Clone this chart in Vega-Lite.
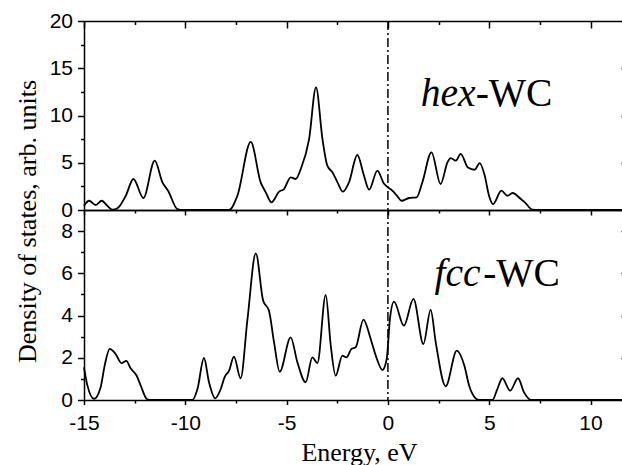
{
  "$schema": "https://vega.github.io/schema/vega-lite/v6.json",
  "padding": {"left": 13, "top": 10, "right": 0, "bottom": 0},
  "spacing": 0,
  "bounds": "flush",
  "config": {
    "view": {"stroke": null},
    "axis": {"grid": false, "domainColor": "black", "domainWidth": 1.5, "tickColor": "black", "tickWidth": 1.5, "labelColor": "black", "titleColor": "black", "labelFont": "Liberation Sans", "labelFontSize": 21, "titleFont": "Liberation Serif", "titleFontSize": 26, "titleFontWeight": "normal", "labelFlush": false, "labelOverlap": false, "labelBound": false}
  },
  "datasets": {
    "hex": [
      {"E": -15, "DOS": 0.45}, {"E": -14.75, "DOS": 0.98}, {"E": -14.42, "DOS": 0.53}, {"E": -14.13, "DOS": 0.98}, {"E": -13.85, "DOS": 0.45}, {"E": -13.6, "DOS": 0.03}, {"E": -13.35, "DOS": 0.18}, {"E": -12.94, "DOS": 1.5}, {"E": -12.56, "DOS": 3.28}, {"E": -12.07, "DOS": 1.27}, {"E": -11.51, "DOS": 5.22}, {"E": -11.13, "DOS": 2.93}, {"E": -10.85, "DOS": 2.04}, {"E": -10.39, "DOS": 0.1}, {"E": -10.1, "DOS": 0}, {"E": -7.84, "DOS": 0}, {"E": -7.43, "DOS": 1.51}, {"E": -6.77, "DOS": 7.2}, {"E": -6.28, "DOS": 2.93}, {"E": -6.03, "DOS": 1.87}, {"E": -5.75, "DOS": 0.81}, {"E": -5.37, "DOS": 1.94}, {"E": -5.13, "DOS": 2.22}, {"E": -4.8, "DOS": 3.46}, {"E": -4.55, "DOS": 3.28}, {"E": -4.3, "DOS": 4.34}, {"E": -3.89, "DOS": 7.51}, {"E": -3.55, "DOS": 12.98}, {"E": -3.23, "DOS": 7.5}, {"E": -2.99, "DOS": 4.69}, {"E": -2.74, "DOS": 3.99}, {"E": -2.49, "DOS": 2.93}, {"E": -2.22, "DOS": 1.94}, {"E": -1.92, "DOS": 2.93}, {"E": -1.51, "DOS": 5.82}, {"E": -1.18, "DOS": 3.63}, {"E": -0.93, "DOS": 2.15}, {"E": -0.52, "DOS": 4.16}, {"E": -0.2, "DOS": 2.8}, {"E": 0.0, "DOS": 2.4}, {"E": 0.22, "DOS": 2.05}, {"E": 0.45, "DOS": 1.5}, {"E": 0.67, "DOS": 0.98}, {"E": 1.04, "DOS": 1.27}, {"E": 1.42, "DOS": 1.34}, {"E": 1.7, "DOS": 2.93}, {"E": 2.15, "DOS": 6.1}, {"E": 2.6, "DOS": 2.75}, {"E": 2.94, "DOS": 5.05}, {"E": 3.1, "DOS": 5.5}, {"E": 3.35, "DOS": 5.22}, {"E": 3.59, "DOS": 5.93}, {"E": 3.95, "DOS": 4.5}, {"E": 4.28, "DOS": 4.26}, {"E": 4.53, "DOS": 4.97}, {"E": 4.78, "DOS": 3.63}, {"E": 4.99, "DOS": 1.51}, {"E": 5.19, "DOS": 0.63}, {"E": 5.6, "DOS": 2.04}, {"E": 5.9, "DOS": 1.51}, {"E": 6.15, "DOS": 1.8}, {"E": 6.56, "DOS": 1.16}, {"E": 6.76, "DOS": 0.81}, {"E": 7.13, "DOS": 0.03}, {"E": 7.4, "DOS": 0}, {"E": 11.8, "DOS": 0}
    ],
    "fcc": [
      {"E": -15, "DOS": 1.55}, {"E": -14.83, "DOS": 0.68}, {"E": -14.5, "DOS": 0.05}, {"E": -14.18, "DOS": 0.6}, {"E": -13.98, "DOS": 1.63}, {"E": -13.73, "DOS": 2.42}, {"E": -13.44, "DOS": 2.18}, {"E": -13.15, "DOS": 1.75}, {"E": -12.91, "DOS": 1.85}, {"E": -12.7, "DOS": 1.5}, {"E": -12.4, "DOS": 1.15}, {"E": -12.2, "DOS": 0.68}, {"E": -11.9, "DOS": 0.05}, {"E": -11.7, "DOS": 0}, {"E": -9.65, "DOS": 0}, {"E": -9.4, "DOS": 0.52}, {"E": -9.08, "DOS": 1.99}, {"E": -8.83, "DOS": 0.84}, {"E": -8.53, "DOS": 0.08}, {"E": -8.25, "DOS": 0.52}, {"E": -8.06, "DOS": 1.08}, {"E": -7.84, "DOS": 1.39}, {"E": -7.6, "DOS": 2.05}, {"E": -7.27, "DOS": 1.03}, {"E": -6.93, "DOS": 3.84}, {"E": -6.52, "DOS": 6.95}, {"E": -6.16, "DOS": 4.71}, {"E": -5.87, "DOS": 4.23}, {"E": -5.62, "DOS": 2.73}, {"E": -5.34, "DOS": 1.34}, {"E": -4.8, "DOS": 2.97}, {"E": -4.47, "DOS": 1.79}, {"E": -4.06, "DOS": 0.84}, {"E": -3.73, "DOS": 2.02}, {"E": -3.48, "DOS": 1.75}, {"E": -3.07, "DOS": 4.98}, {"E": -2.82, "DOS": 2.57}, {"E": -2.58, "DOS": 1.15}, {"E": -2.25, "DOS": 2.1}, {"E": -2.05, "DOS": 2.02}, {"E": -1.8, "DOS": 2.42}, {"E": -1.59, "DOS": 2.5}, {"E": -1.21, "DOS": 3.81}, {"E": -0.85, "DOS": 2.89}, {"E": -0.6, "DOS": 2.1}, {"E": -0.27, "DOS": 1.42}, {"E": -0.06, "DOS": 1.94}, {"E": 0.1, "DOS": 3.84}, {"E": 0.3, "DOS": 4.66}, {"E": 0.79, "DOS": 3.52}, {"E": 1.26, "DOS": 4.79}, {"E": 1.75, "DOS": 2.65}, {"E": 2.11, "DOS": 4.27}, {"E": 2.36, "DOS": 2.73}, {"E": 2.85, "DOS": 0.65}, {"E": 3.4, "DOS": 2.34}, {"E": 3.77, "DOS": 1.63}, {"E": 4.01, "DOS": 0.68}, {"E": 4.33, "DOS": 0.08}, {"E": 4.5, "DOS": 0}, {"E": 5.16, "DOS": 0}, {"E": 5.4, "DOS": 0.52}, {"E": 5.65, "DOS": 1.03}, {"E": 6.03, "DOS": 0.44}, {"E": 6.42, "DOS": 1.03}, {"E": 6.72, "DOS": 0.36}, {"E": 6.96, "DOS": 0.05}, {"E": 7.1, "DOS": 0}, {"E": 11.8, "DOS": 0}
    ]
  },
  "vconcat": [
    {
      "width": 543,
      "height": 189,
      "layer": [
        {
          "data": {"name": "hex"},
          "mark": {"type": "line", "interpolate": "monotone", "color": "black", "strokeWidth": 1.8},
          "encoding": {
            "x": {"field": "E", "type": "quantitative", "scale": {"domain": [-15, 11.8], "nice": false, "zero": false},
              "axis": {"orient": "bottom", "title": null, "labels": false, "ticks": false, "values": [-15, -10, -5, 0, 5, 10]}},
            "y": {"field": "DOS", "type": "quantitative", "scale": {"domain": [0, 20], "nice": false},
              "axis": {"orient": "left", "values": [0, 2.5, 5, 7.5, 10, 12.5, 15, 17.5, 20],
                "labelExpr": "datum.value % 5 === 0 ? toString(datum.value) : ''",
                "tickSize": {"condition": {"test": "datum.value % 5 === 0", "value": 6.5}, "value": 3.5},
                "labelPadding": 5,
                "title": "Density of states, arb. units", "titleFontSize": 26, "titleX": -49, "titleY": 200, "titleBaseline": "alphabetic", "titleAngle": 270, "titleAlign": "center"}}
          }
        },
        {
          "data": {"values": [{"E": 0}]},
          "mark": {"type": "rule", "color": "black", "strokeWidth": 1.5, "strokeDash": [9, 3, 2, 3]},
          "encoding": {
            "x": {"field": "E", "type": "quantitative",
              "axis": {"orient": "top", "title": null, "labels": false, "values": [-15, -12.5, -10, -7.5, -5, -2.5, 0, 2.5, 5, 7.5, 10],
                "tickSize": {"condition": {"test": "datum.value % 5 === 0", "value": -7}, "value": -3.5}}}
          }
        },
        {
          "data": {"values": [{"E": 1.62, "DOS": 10.97, "t": "hex"}]},
          "mark": {"type": "text", "font": "Liberation Serif", "fontSize": 39.5, "fontStyle": "italic", "align": "left", "baseline": "alphabetic", "color": "black"},
          "encoding": {
            "x": {"field": "E", "type": "quantitative", "axis": null},
            "y": {"field": "DOS", "type": "quantitative",
              "axis": {"orient": "right", "title": null, "labels": false, "domain": false, "values": [0, 2.5, 5, 7.5, 10, 12.5, 15, 17.5, 20],
                "tickSize": {"condition": {"test": "datum.value % 5 === 0", "value": -6}, "value": -3}}},
            "text": {"field": "t"}
          }
        },
        {
          "data": {"values": [{"E": 4.33, "DOS": 10.97, "t": "-WC"}]},
          "mark": {"type": "text", "font": "Liberation Serif", "fontSize": 39.5, "align": "left", "baseline": "alphabetic", "color": "black"},
          "encoding": {
            "x": {"field": "E", "type": "quantitative", "axis": null},
            "y": {"field": "DOS", "type": "quantitative", "axis": null},
            "text": {"field": "t"}
          }
        }
      ],
      "resolve": {"axis": {"x": "independent", "y": "independent"}}
    },
    {
      "width": 543,
      "height": 190,
      "layer": [
        {
          "data": {"name": "fcc"},
          "mark": {"type": "line", "interpolate": "monotone", "color": "black", "strokeWidth": 1.8},
          "encoding": {
            "x": {"field": "E", "type": "quantitative", "scale": {"domain": [-15, 11.8], "nice": false, "zero": false},
              "axis": {"orient": "bottom", "values": [-15, -12.5, -10, -7.5, -5, -2.5, 0, 2.5, 5, 7.5, 10],
                "labelExpr": "datum.value % 5 === 0 ? toString(datum.value) : ''",
                "tickSize": {"condition": {"test": "datum.value % 5 === 0", "value": 4.5}, "value": 3},
                "labelPadding": 8,
                "title": "Energy, eV", "titleX": 275, "titleY": 60, "titleBaseline": "alphabetic", "titleAlign": "center"}},
            "y": {"field": "DOS", "type": "quantitative", "scale": {"domain": [0, 9], "nice": false},
              "axis": {"orient": "left", "values": [0, 1, 2, 3, 4, 5, 6, 7, 8],
                "labelExpr": "datum.value % 2 === 0 ? toString(datum.value) : ''",
                "tickSize": {"condition": {"test": "datum.value % 2 === 0", "value": 6.5}, "value": 3.5},
                "labelPadding": 5, "title": null}}
          }
        },
        {
          "data": {"values": [{"E": 0}]},
          "mark": {"type": "rule", "color": "black", "strokeWidth": 1.5, "strokeDash": [9, 3, 2, 3]},
          "encoding": {
            "x": {"field": "E", "type": "quantitative",
              "axis": {"orient": "top", "title": null, "labels": false, "values": [-15, -12.5, -10, -7.5, -5, -2.5, 0, 2.5, 5, 7.5, 10],
                "tickSize": {"condition": {"test": "datum.value % 5 === 0", "value": -5}, "value": -3}}}
          }
        },
        {
          "data": {"values": [{"E": 2.3, "DOS": 5.39, "t": "fcc"}]},
          "mark": {"type": "text", "font": "Liberation Serif", "fontSize": 39.5, "fontStyle": "italic", "align": "left", "baseline": "alphabetic", "color": "black"},
          "encoding": {
            "x": {"field": "E", "type": "quantitative", "axis": null},
            "y": {"field": "DOS", "type": "quantitative",
              "axis": {"orient": "right", "title": null, "labels": false, "domain": false, "values": [0, 1, 2, 3, 4, 5, 6, 7, 8],
                "tickSize": {"condition": {"test": "datum.value % 2 === 0", "value": -6}, "value": -3}}},
            "text": {"field": "t"}
          }
        },
        {
          "data": {"values": [{"E": 4.7, "DOS": 5.39, "t": "-WC"}]},
          "mark": {"type": "text", "font": "Liberation Serif", "fontSize": 39.5, "align": "left", "baseline": "alphabetic", "color": "black"},
          "encoding": {
            "x": {"field": "E", "type": "quantitative", "axis": null},
            "y": {"field": "DOS", "type": "quantitative", "axis": null},
            "text": {"field": "t"}
          }
        }
      ],
      "resolve": {"axis": {"x": "independent", "y": "independent"}}
    }
  ]
}
